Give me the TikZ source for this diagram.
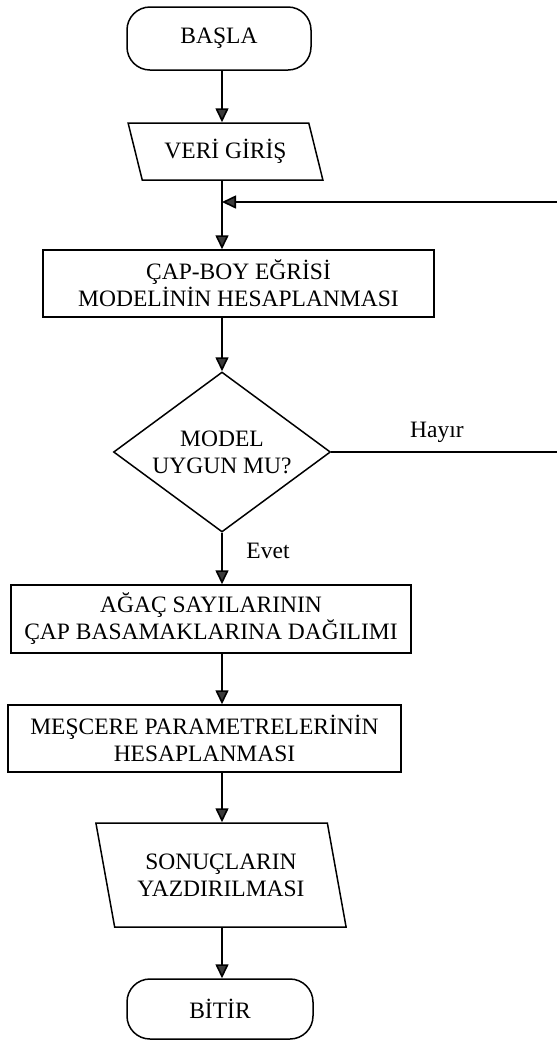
\documentclass[tikz,border=0pt]{standalone}
\usepackage{fontspec}
\setmainfont{Liberation Serif}
\usetikzlibrary{positioning, arrows.meta, shapes.geometric}
\definecolor{mTip}{HTML}{3A3A3A}

\begin{document}
\begin{tikzpicture}[
  x=0.5pt, y=-0.5pt,
  every node/.style={font=\fontsize{11.75}{13.5}\selectfont, align=center},
  terminal/.style={draw, line width=0.75pt, rounded corners=11.5pt, inner sep=0pt},
  process/.style={draw, line width=0.75pt, inner sep=0pt},
  io/.style={draw, line width=0.75pt, trapezium, trapezium stretches=true, inner sep=0pt},
  decision/.style={draw, line width=0.75pt, diamond, aspect=1.36, inner sep=0pt,
                   minimum width=108.5pt, minimum height=80pt},
  flow/.style={line width=0.8pt, -{Triangle[length=7pt, width=6.5pt, fill=mTip]}},
]
  \useasboundingbox (0,0) rectangle (557,1041);
  \coordinate (col) at (222,0);

  % Start and input
  \node[terminal, minimum width=92pt, minimum height=31.5pt] (start) at (219,38.5) {BAŞLA};
  \node[io, trapezium left angle=113, trapezium right angle=67,
        minimum width=97.5pt, minimum height=28.5pt] (input) at (225.5,151.5) {VERİ GİRİŞ};

  % Model and check
  \node[process, minimum width=195.5pt, minimum height=33.5pt] (model) at (238.5,283.5)
    {ÇAP-BOY EĞRİSİ\\MODELİNİN HESAPLANMASI};
  \node[decision] (check) at (222,452) {MODEL\\UYGUN MU?};
  \node (no) at (437,432) {Hayır};
  \node (yes) at (268,551) {Evet};

  % Computation steps
  \node[process, minimum width=200pt, minimum height=34pt] (trees) at (211,619)
    {AĞAÇ SAYILARININ\\ÇAP BASAMAKLARINA DAĞILIMI};
  \node[process, minimum width=196.5pt, minimum height=33.5pt] (stand) at (204.5,738.5)
    {MEŞCERE PARAMETRELERİNİN\\HESAPLANMASI};

  % Output and end
  \node[io, trapezium left angle=109, trapezium right angle=71,
        minimum width=126pt, minimum height=52pt] (output) at (221,875) {SONUÇLARIN\\YAZDIRILMASI};
  \node[terminal, minimum width=93pt, minimum height=30pt] (stop) at (220,1009) {BİTİR};

  % Loop back (runs off the right edge)
  \coordinate (loopin) at (557,202);
  \coordinate (loopout) at (557,452);

  % Connectors
  \draw[flow] (start.south -| col) -- (input.north -| col);
  \draw[flow] (input.south -| col) -- (model.north -| col);
  \draw[flow] (loopin) -- (loopin -| col);
  \draw[flow] (model.south -| col) -- (check.north);
  \draw[line width=0.8pt] (check.east) -- (loopout);
  \draw[flow] (check.south) -- (trees.north -| col);
  \draw[flow] (trees.south -| col) -- (stand.north -| col);
  \draw[flow] (stand.south -| col) -- (output.north -| col);
  \draw[flow] (output.south -| col) -- (stop.north -| col);
\end{tikzpicture}
\end{document}
